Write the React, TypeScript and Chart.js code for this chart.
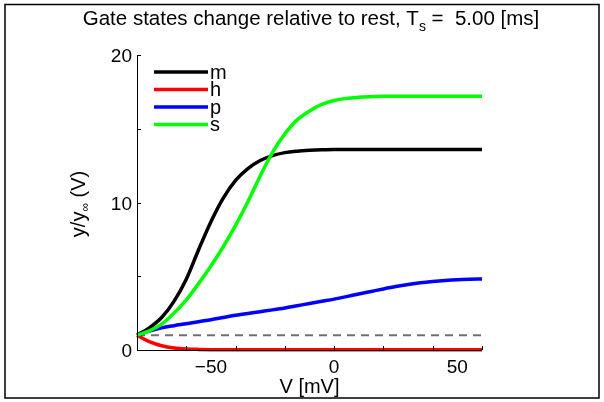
import React, { useEffect, useRef } from "react";
import { Chart, registerables } from "chart.js";

Chart.register(...registerables);

const voltages = [-80, -75, -70, -65, -60, -55, -50, -45, -40, -35, -30, -25, -20, -15, -10, -5, 0, 5, 10, 15, 20, 25, 30, 35, 40, 45, 50, 55, 60];
const mValues = [1.0, 1.5, 2.2, 3.3, 4.8, 6.8, 8.7, 10.3, 11.5, 12.3, 12.85, 13.18, 13.38, 13.48, 13.54, 13.58, 13.6, 13.6, 13.6, 13.6, 13.6, 13.6, 13.6, 13.6, 13.6, 13.6, 13.6, 13.6, 13.6];
const hValues = [1.0, 0.57, 0.29, 0.14, 0.07, 0.04, 0.025, 0.02, 0.015, 0.01, 0.01, 0.01, 0.01, 0.01, 0.01, 0.01, 0.01, 0.01, 0.01, 0.01, 0.01, 0.01, 0.01, 0.01, 0.01, 0.01, 0.01, 0.01, 0.01];
const pValues = [1.0, 1.28, 1.5, 1.65, 1.78, 1.92, 2.05, 2.2, 2.35, 2.48, 2.6, 2.72, 2.85, 3.0, 3.15, 3.3, 3.45, 3.62, 3.8, 3.97, 4.14, 4.3, 4.44, 4.56, 4.65, 4.72, 4.77, 4.8, 4.82];
const sValues = [1.0, 1.3, 1.75, 2.5, 3.4, 4.5, 5.7, 7.0, 8.45, 10.05, 11.8, 13.4, 14.65, 15.6, 16.2, 16.65, 16.92, 17.06, 17.13, 17.17, 17.2, 17.2, 17.2, 17.2, 17.2, 17.2, 17.2, 17.2, 17.2];
const restLineX = [-80, 60];
const restLineY = [1, 1];

const seriesNames = ["m", "h", "p", "s"];
const seriesColors = ["#000000", "#ff0000", "#0000ff", "#00ff00"];

const xMajorTicks = [-50, 0, 50];
const xMinorTicks = [-80, -60, -40, -20, 0, 20, 40, 60];
const yMajorTicks = [0, 10, 20];
const yMinorTicks = [0, 5, 10, 15, 20];

const FONT = '"Liberation Sans", Arial, Helvetica, sans-serif';

export default function App() {
  const ref = useRef<HTMLCanvasElement | null>(null);

  useEffect(() => {
    document.body.style.margin = "0";
    const canvas = ref.current;
    if (!canvas) return;

    const pts = (ys: number[]) => voltages.map((v, i) => ({ x: v, y: ys[i] }));
    const allSeries = [mValues, hValues, pValues, sValues];

    const datasets: any[] = allSeries.map((ys, i) => ({
      label: seriesNames[i],
      data: pts(ys),
      borderColor: seriesColors[i],
      borderWidth: 3.5,
      pointRadius: 0,
      fill: false,
      cubicInterpolationMode: "monotone",
      clip: false,
      order: 4 - i,
    }));
    datasets.push({
      label: "rest",
      data: restLineX.map((x, i) => ({ x, y: restLineY[i] })),
      borderColor: "#707070",
      borderWidth: 1.8,
      borderDash: [8, 6],
      pointRadius: 0,
      fill: false,
      order: 10,
    });

    const decor = {
      id: "decor",
      afterDraw(chart: any) {
        const ctx = chart.ctx as CanvasRenderingContext2D;
        const xs = chart.scales.x;
        const ys = chart.scales.y;
        const left = xs.left;
        const right = xs.right;
        const top = ys.top;
        const bottom = ys.bottom;
        ctx.save();
        // outer border
        ctx.strokeStyle = "#000";
        ctx.lineWidth = 1.5;
        ctx.strokeRect(5, 4.5, 594, 393.5);
        // axes
        ctx.lineWidth = 1;
        ctx.beginPath();
        ctx.moveTo(left + 0.5, top);
        ctx.lineTo(left + 0.5, bottom + 0.5);
        ctx.lineTo(right, bottom + 0.5);
        ctx.stroke();
        // ticks (inward)
        ctx.beginPath();
        for (const t of yMinorTicks) {
          const y = Math.round(ys.getPixelForValue(t)) + 0.5;
          ctx.moveTo(left, y);
          ctx.lineTo(left + 4, y);
        }
        for (const t of xMinorTicks) {
          const x = Math.round(xs.getPixelForValue(t)) + 0.5;
          ctx.moveTo(x, bottom);
          ctx.lineTo(x, bottom - 4);
        }
        ctx.stroke();
        // tick labels
        ctx.fillStyle = "#000";
        ctx.font = `19px ${FONT}`;
        ctx.textAlign = "right";
        ctx.textBaseline = "alphabetic";
        for (const t of yMajorTicks) {
          const y = ys.getPixelForValue(t);
          ctx.fillText(String(t), left - 5, y + 7);
        }
        ctx.textAlign = "center";
        for (const t of xMajorTicks) {
          const x = xs.getPixelForValue(t);
          const s = t < 0 ? "\u2212" + Math.abs(t) : String(t);
          ctx.fillText(s, x, bottom + 23);
        }
        // x label
        ctx.font = `20px ${FONT}`;
        ctx.fillText("V [mV]", (left + right) / 2, 393);
        // y label (rotated)
        ctx.save();
        ctx.translate(85, 204);
        ctx.rotate(-Math.PI / 2);
        const yl1 = "y/y";
        const yl2 = "\u221e";
        const yl3 = " (V)";
        ctx.font = `20px ${FONT}`;
        const w1 = ctx.measureText(yl1).width;
        const w3 = ctx.measureText(yl3).width;
        ctx.font = `12px ${FONT}`;
        const w2 = ctx.measureText(yl2).width;
        const total = w1 + w2 + w3;
        let cx = -total / 2;
        ctx.textAlign = "left";
        ctx.font = `20px ${FONT}`;
        ctx.fillText(yl1, cx, 0);
        cx += w1;
        ctx.font = `12px ${FONT}`;
        ctx.fillText(yl2, cx, 4);
        cx += w2;
        ctx.font = `20px ${FONT}`;
        ctx.fillText(yl3, cx, 0);
        ctx.restore();
        // title
        const t1 = "Gate states change relative to rest, T";
        const t2 = "s";
        const t3 = " =  5.00 [ms]";
        ctx.font = `20.5px ${FONT}`;
        const a = ctx.measureText(t1).width;
        const c = ctx.measureText(t3).width;
        ctx.font = `14px ${FONT}`;
        const b = ctx.measureText(t2).width;
        let tx = 311 - (a + b + c) / 2;
        ctx.textAlign = "left";
        ctx.font = `20.5px ${FONT}`;
        ctx.fillText(t1, tx, 25);
        tx += a;
        ctx.font = `14px ${FONT}`;
        ctx.fillText(t2, tx, 31);
        tx += b;
        ctx.font = `20.5px ${FONT}`;
        ctx.fillText(t3, tx, 25);
        // legend
        const legY = [72, 89.5, 107, 124.5];
        for (let i = 0; i < seriesNames.length; i++) {
          ctx.strokeStyle = seriesColors[i];
          ctx.lineWidth = 3.5;
          ctx.beginPath();
          ctx.moveTo(154, legY[i]);
          ctx.lineTo(208, legY[i]);
          ctx.stroke();
          ctx.fillStyle = "#000";
          ctx.font = `20px ${FONT}`;
          ctx.fillText(seriesNames[i], 210, legY[i] + 6.5);
        }
        ctx.restore();
      },
    };

    const chart = new Chart(canvas, {
      type: "line",
      data: { datasets },
      options: {
        responsive: false,
        animation: false,
        events: [],
        layout: { padding: { left: 137, right: 122, top: 55, bottom: 52 } },
        plugins: { legend: { display: false }, tooltip: { enabled: false }, title: { display: false } },
        scales: {
          x: { type: "linear", min: -80, max: 60, display: false },
          y: { type: "linear", min: 0, max: 20, display: false },
        },
      },
      plugins: [decor],
    });
    return () => chart.destroy();
  }, []);

  return (
    <div style={{ width: 604, height: 402, background: "#fff" }}>
      <canvas ref={ref} width={604} height={402} style={{ display: "block" }} />
    </div>
  );
}
